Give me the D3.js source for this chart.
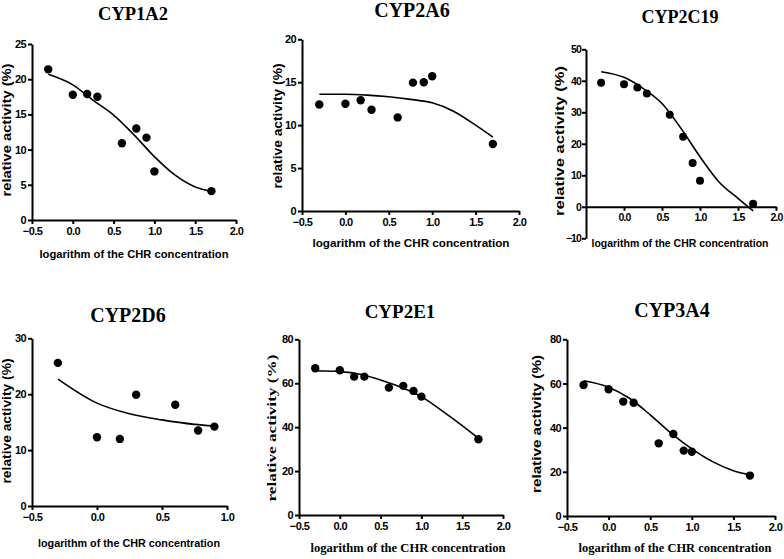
<!DOCTYPE html>
<html><head><meta charset="utf-8">
<script src="https://cdn.jsdelivr.net/npm/d3@7"></script>
<style>
body{margin:0;background:#fff;}
svg{display:block;}
.tick text{font-family:"Liberation Sans",Arial,sans-serif;font-weight:bold;font-size:11px;letter-spacing:-0.6px;fill:#000;}
.narrow .tick text{font-size:10.5px;letter-spacing:-0.9px;}
.domain,.tick line{stroke:#000;stroke-width:2;}
</style></head>
<body>
<svg id="c" width="784" height="559"></svg>
<script>
// ---- data ----
const logConc = [-0.301, 0, 0.176, 0.301, 0.602, 0.778, 0.903, 1.0, 1.699];
const logConc2D6 = [-0.301, 0, 0.176, 0.301, 0.602, 0.778, 0.903];
const fitX = [-0.3, 0, 0.25, 0.5, 0.75, 1.0, 1.25, 1.5, 1.7];
const fitX2D6 = [-0.3, 0, 0.25, 0.5, 0.75, 0.9];

const cyp1a2 = [21.4, 17.8, 17.9, 17.5, 10.9, 13.0, 11.7, 6.9, 4.1];
const cyp1a2Fit = [20.7, 19.2, 17.0, 14.9, 12.1, 9.0, 6.4, 4.7, 4.1];
const cyp2a6 = [12.4, 12.5, 12.9, 11.8, 10.9, 14.95, 15.0, 15.7, 7.8];
const cyp2a6Fit = [13.6, 13.6, 13.5, 13.3, 13.0, 12.6, 11.6, 10.0, 8.6];
const cyp2c19 = [39.4, 38.9, 37.9, 36.0, 29.2, 22.2, 13.9, 8.3, 1.0];
const cyp2c19Fit = [42.9, 41.1, 37.6, 32.8, 24.9, 15.9, 7.9, 2.7, -1.3];
const cyp2d6 = [25.6, 12.3, 12.0, 19.9, 18.1, 13.5, 14.2];
const cyp2d6Fit = [22.7, 18.4, 16.5, 15.4, 14.6, 14.3];
const cyp2e1 = [66.8, 65.9, 63.0, 63.0, 58.0, 58.8, 56.5, 53.9, 34.5];
const cyp2e1Fit = [65.7, 65.3, 64.1, 61.5, 58.2, 53.9, 47.5, 40.7, 34.9];
const cyp3a4 = [59.3, 57.4, 51.8, 51.3, 32.9, 37.1, 29.6, 29.1, 18.3];
const cyp3a4Fit = [61.2, 58.3, 53.3, 45.8, 37.5, 30.4, 24.6, 20.5, 18.6];

const titles = ["CYP1A2","CYP2A6","CYP2C19","CYP2D6","CYP2E1","CYP3A4"];
const xTicksFull = [-0.5, 0, 0.5, 1.0, 1.5, 2.0];
const xTicks2C19 = [0, 0.5, 1.0, 1.5, 2.0];
const xTicks2D6 = [-0.5, 0, 0.5, 1.0];
const xLabel = "logarithm of the CHR concentration";
const yLabel = "relative activity (%)";

// ---- layout ----
const SANS = '"Liberation Sans",Arial,sans-serif';
const SERIF = '"Liberation Serif","Times New Roman",serif';
const panels = [
 {title:titles[0], xs:logConc, ys:cyp1a2, fx:fitX, fy:cyp1a2Fit, xd:[-0.5,2], xr:[32,236], yd:[0,25], yr:[220,44], yt:d3.range(0,26,5), xt:xTicksFull,
  tpos:[133,20,18.5], xl:[134,258,189,SANS,11], yl:[11,130,133,SANS,12], r:4.2},
 {title:titles[1], xs:logConc, ys:cyp2a6, fx:fitX, fy:cyp2a6Fit, xd:[-0.5,2], xr:[302,519], yd:[0,20], yr:[211,39.3], yt:d3.range(0,21,5), xt:xTicksFull,
  tpos:[412,17,20], xl:[411,247,197,SANS,11.5], yl:[282,126,125,SANS,12], r:4.2},
 {title:titles[2], xs:logConc, ys:cyp2c19, fx:fitX, fy:cyp2c19Fit, xd:[-0.5,2], xr:[586,776], yd:[-10,50], yr:[238.3,49.3], yt:d3.range(-10,51,10), xt:xTicks2C19, xAt0:true, narrow:true,
  tpos:[680,23,18], xl:[680,247,177,SANS,10.5], yl:[564,141,150,SANS,12.5], r:4},
 {title:titles[3], xs:logConc2D6, ys:cyp2d6, fx:fitX2D6, fy:cyp2d6Fit, xd:[-0.5,1], xr:[32,227], yd:[0,30], yr:[506,338.3], yt:d3.range(0,31,10), xt:xTicks2D6,
  tpos:[128,322,20], xl:[129,547,182,SANS,10.8], yl:[11,421,125,SANS,12], r:4.2},
 {title:titles[4], xs:logConc, ys:cyp2e1, fx:fitX, fy:cyp2e1Fit, xd:[-0.5,2], xr:[299,503], yd:[0,80], yr:[515,339.3], yt:d3.range(0,81,20), xt:xTicksFull,
  tpos:[400,318,19], xl:[408,552,195,SERIF,12.5], yl:[276,428,147,SERIF,13], r:4.2},
 {title:titles[5], xs:logConc, ys:cyp3a4, fx:fitX, fy:cyp3a4Fit, xd:[-0.5,2], xr:[567,775], yd:[0,80], yr:[516,339.3], yt:d3.range(0,81,20), xt:xTicksFull,
  tpos:[672,317,20], xl:[675,552,193,SERIF,12.5], yl:[541,424,138,SANS,12.5], r:4.2}
];

const svg = d3.select("#c");
svg.append("rect").attr("width",784).attr("height",559).attr("fill","#fff");

panels.forEach(p => {
  const g = svg.append("g").attr("class", p.narrow ? "narrow" : null);
  const x = d3.scaleLinear().domain(p.xd).range(p.xr);
  const y = d3.scaleLinear().domain(p.yd).range(p.yr);
  const xAxisY = p.xAt0 ? y(0) : p.yr[0];

  // y axis
  g.append("g").attr("transform",`translate(${p.xr[0]},0)`)
    .call(d3.axisLeft(y).tickValues(p.yt).tickFormat(d3.format("d")).tickSize(4).tickSizeOuter(0).tickPadding(p.narrow?1:2));
  // x axis
  g.append("g").attr("transform",`translate(0,${xAxisY})`)
    .call(d3.axisBottom(x).tickValues(p.xt).tickFormat(d3.format(".1f")).tickSize(4).tickSizeOuter(0).tickPadding(3));

  // fit curve
  const line = d3.line().x(d=>x(d[0])).y(d=>y(d[1])).curve(d3.curveMonotoneX);
  g.append("path").datum(p.fx.map((v,i)=>[v,p.fy[i]]))
    .attr("d",line).attr("fill","none").attr("stroke","#000").attr("stroke-width",1.6);

  // points
  g.selectAll("circle.pt").data(p.xs.map((v,i)=>[v,p.ys[i]])).enter().append("circle")
    .attr("cx",d=>x(d[0])).attr("cy",d=>y(d[1])).attr("r",p.r).attr("fill","#000");

  // title
  g.append("text").attr("x",p.tpos[0]).attr("y",p.tpos[1]).attr("text-anchor","middle")
    .attr("font-family",SERIF).attr("font-weight","bold").attr("font-size",p.tpos[2]).text(p.title);

  // x label
  g.append("text").attr("x",p.xl[0]).attr("y",p.xl[1]).attr("text-anchor","middle")
    .attr("font-family",p.xl[3]).attr("font-weight","bold").attr("font-size",p.xl[4])
    .attr("textLength",p.xl[2]).attr("lengthAdjust","spacingAndGlyphs").text(xLabel);

  // y label
  g.append("text").attr("transform",`translate(${p.yl[0]},${p.yl[1]}) rotate(-90)`).attr("text-anchor","middle")
    .attr("font-family",p.yl[3]).attr("font-weight","bold").attr("font-size",p.yl[4])
    .attr("textLength",p.yl[2]).attr("lengthAdjust","spacingAndGlyphs").text(yLabel);
});
</script>
</body></html>
